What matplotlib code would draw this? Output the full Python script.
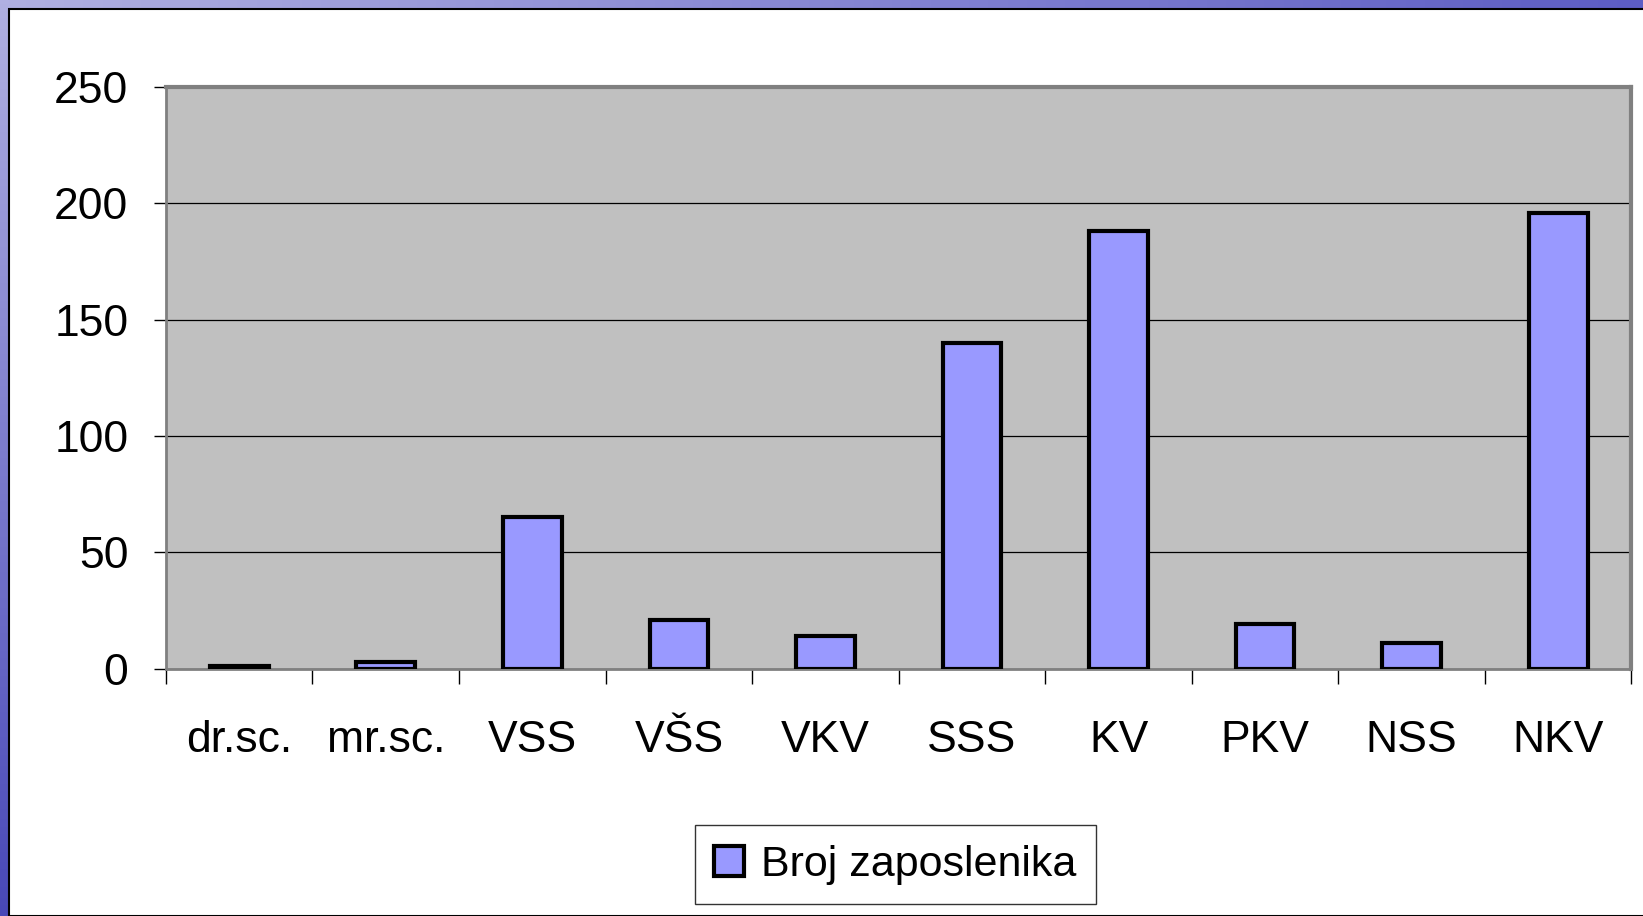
import numpy as np
import matplotlib.pyplot as plt
from matplotlib.patches import Rectangle
from matplotlib.colors import LinearSegmentedColormap

plt.rcParams['font.family'] = ['Liberation Sans', 'DejaVu Sans']

categories = ["dr.sc.", "mr.sc.", "VSS", "VŠS", "VKV", "SSS", "KV", "PKV", "NSS", "NKV"]
broj_zaposlenika = [1, 3, 65, 21, 14, 140, 188, 19, 11, 196]
y_ticks = [0, 50, 100, 150, 200, 250]

fig = plt.figure(figsize=(16.43, 9.16), dpi=100)

# slide background: blue gradient border on left and top
bg = fig.add_axes([0, 0, 1, 1], zorder=-10)
grad = np.linspace(0, 1, 256).reshape(1, -1)
bg.imshow(np.vstack([grad, grad]), aspect="auto", extent=[0, 1, 0, 1],
          cmap=LinearSegmentedColormap.from_list("slide", ["#b0b0e2", "#5d5dc4"]))
# left strip: lavender at top, darker blue going down
vgrad = np.linspace(0, 1, 256).reshape(-1, 1)
bg.imshow(np.hstack([vgrad, vgrad]), aspect="auto", extent=[0, 9 / 1643, 0, 1],
          cmap=LinearSegmentedColormap.from_list("side", ["#b0b0e2", "#4848b8"]))
bg.add_patch(Rectangle((9 / 1643, 0), 1, 1 - 9 / 916, facecolor="white",
                       edgecolor="black", linewidth=1.5, transform=bg.transAxes))
bg.set_xlim(0, 1)
bg.set_ylim(0, 1)
bg.axis("off")

ax = fig.add_axes([0.101, 0.270, 0.892, 0.635])
ax.set_facecolor("#c0c0c0")
x = np.arange(len(categories))
bars = ax.bar(x, broj_zaposlenika, width=0.4, color="#9999ff", edgecolor="black",
              linewidth=3, label="Broj zaposlenika", zorder=3)

ax.set_xlim(-0.5, len(categories) - 0.5)
ax.set_ylim(0, 250)
ax.set_yticks(y_ticks)
ax.yaxis.grid(True, color="black", linewidth=0.9, zorder=1)
ax.set_axisbelow(True)

ax.set_xticks(x)
ax.set_xticklabels(categories)
ax.set_xticks(np.arange(-0.5, len(categories)), minor=True)
ax.tick_params(axis="x", which="major", length=0, pad=37, labelsize=32)
ax.tick_params(axis="x", which="minor", length=11, width=1, direction="out", color="black")
ax.tick_params(axis="y", length=9, width=1, pad=18, labelsize=32)

for side in ["top", "right"]:
    ax.spines[side].set_color("#808080")
    ax.spines[side].set_linewidth(3)
ax.spines["left"].set_color("#808080")
ax.spines["left"].set_linewidth(2)
ax.spines["bottom"].set_color("#808080")
ax.spines["bottom"].set_linewidth(2)

leg = fig.legend(loc="center", bbox_to_anchor=(0.545, 0.056), fontsize=31,
                 frameon=True, fancybox=False, edgecolor="black",
                 handlelength=0.7, handleheight=0.7, handletextpad=0.4,
                 borderpad=0.45, borderaxespad=0)
leg.get_frame().set_linewidth(1)

fig.savefig("out.png", dpi=100)
